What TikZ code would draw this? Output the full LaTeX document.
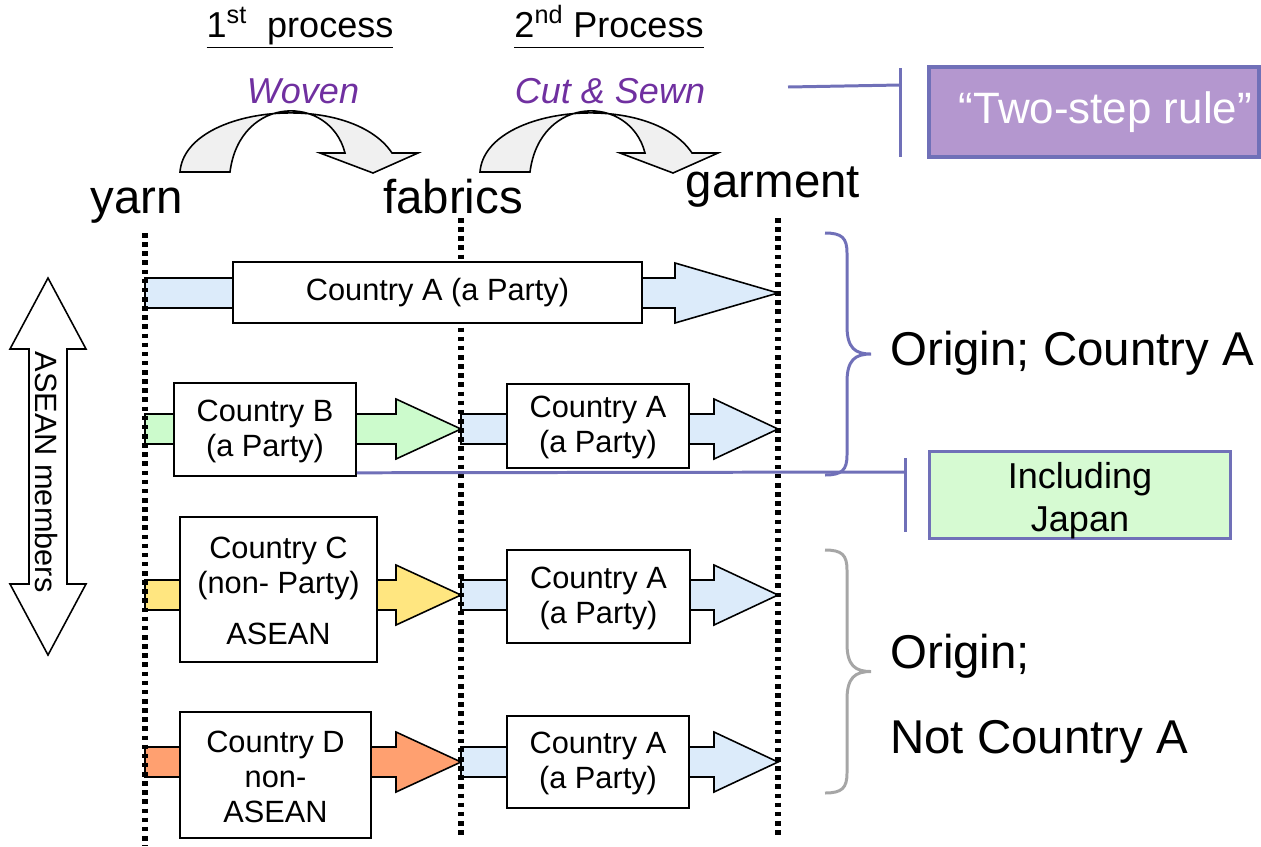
\documentclass[tikz,border=0pt]{standalone}
\usepackage{fontspec}
\setmainfont{Liberation Sans}

\definecolor{partyblue}{HTML}{DCEBFA}
\definecolor{partygreen}{HTML}{CCFBCC}
\definecolor{aseanyellow}{HTML}{FFE680}
\definecolor{otherorange}{HTML}{FFA070}
\definecolor{procpurple}{HTML}{7030A0}
\definecolor{rulepurple}{HTML}{B497CF}
\definecolor{rulemark}{HTML}{7070B8}
\definecolor{japangreen}{HTML}{D6FAD2}

\tikzstyle{country} = [draw, rectangle, fill=white, line width=0.9pt, inner sep=0pt, align=center, font=\fontsize{17.5}{20}\selectfont]
\tikzstyle{stage}   = [anchor=base, font=\fontsize{27}{30}\selectfont]
\tikzstyle{head}    = [anchor=base, font=\fontsize{20.5}{24}\selectfont]
\tikzstyle{proc}    = [anchor=base, text=procpurple, font=\fontsize{20.5}{24}\selectfont\itshape]
\tikzstyle{origin}  = [anchor=base west, inner sep=0pt, font=\fontsize{27}{30}\selectfont]
\tikzstyle{flow}    = [draw, line width=0.9pt]
\tikzstyle{cut}     = [draw, line width=3pt, dash pattern=on 2.6pt off 2.6pt]
\tikzstyle{remark}  = [draw=rulemark, line width=1.7pt]

% block arrow: colour, tail x, head x, tip x, y
\newcommand{\band}[5]{\path[flow, fill=#1] (#2,#5-15) -- (#3,#5-15) -- (#3,#5-30) -- (#4,#5)
  -- (#3,#5+30) -- (#3,#5+15) -- (#2,#5+15) -- cycle;}
% curly bracket: colour, x, top, bottom
\newcommand{\curly}[4]{\draw[#1, line width=1.7pt] (#2,#3) .. controls (#2+17,#3) and (#2+22,#3+5) .. (#2+22,#3+20)
  -- (#2+22,{(#3+#4)/2-28}) .. controls (#2+22,{(#3+#4)/2-6}) and (#2+30,{(#3+#4)/2}) .. (#2+46,{(#3+#4)/2})
  .. controls (#2+30,{(#3+#4)/2}) and (#2+22,{(#3+#4)/2+6}) .. (#2+22,{(#3+#4)/2+28})
  -- (#2+22,#4-20) .. controls (#2+22,#4-5) and (#2+17,#4) .. (#2,#4);}

\begin{document}
\begin{tikzpicture}[x=0.02cm, y=-0.02cm]
  \useasboundingbox (0,0) rectangle (1261,846);

  \node at (300,37) (first)  [head] {\underline{1\textsuperscript{st}\ \ process}};
  \node at (609,37) (second) [head] {\underline{2\textsuperscript{nd} Process\vphantom{p}}};
  \node at (303,103) (woven) [proc] {Woven};
  \node at (610,103) (sewn)  [proc] {Cut \& Sewn};

  \foreach \s in {0,300}
    \path[flow, fill=black!6] ({180+\s},172) .. controls ({185+\s},105) and ({350+\s},90) .. ({392+\s},153)
      -- ({418+\s},153) -- ({373+\s},173) -- ({320+\s},153) -- ({345+\s},153)
      .. controls ({330+\s},94) and ({240+\s},94) .. ({230+\s},172) -- cycle;

  \node at (137,213) (yarn)    [stage] {yarn};
  \node at (453,213) (fabrics) [stage] {fabrics};
  \node at (773,197) (garment) [stage] {garment};

  \band{partyblue}{145}{675}{778}{293}
  \band{partygreen}{145}{396}{461}{429}
  \band{partyblue}{461}{714}{778}{429}
  \band{aseanyellow}{145}{396}{461}{595}
  \band{partyblue}{461}{714}{778}{595}
  \band{otherorange}{145}{396}{461}{762}
  \band{partyblue}{461}{714}{778}{762}

  \draw[cut] (145,233) -- (145,846);
  \draw[cut] (461,218) -- (461,837);
  \draw[cut] (778,218) -- (778,837);

  \node at (437.5,292.5) (ca1) [country, minimum width=8.18cm, minimum height=1.22cm] {Country A (a Party)};
  \node at (265,429.5) (cb)  [country, minimum width=3.64cm, minimum height=1.86cm] {\strut Country B\\(a Party)};
  \node at (598,426)   (ca2) [country, minimum width=3.64cm, minimum height=1.68cm] {\strut Country A\\(a Party)};
  \node at (278.5,589.5) (cc) [country, minimum width=3.94cm, minimum height=2.9cm] {\strut Country C\\(non- Party)\\[9pt]ASEAN};
  \node at (598.5,596.5) (ca3) [country, minimum width=3.66cm, minimum height=1.86cm] {\strut Country A\\(a Party)};
  \node at (275.5,775) (cd)  [country, minimum width=3.82cm, minimum height=2.52cm] {\strut Country D\\non-\\ASEAN};
  \node at (598,762)   (ca4) [country, minimum width=3.64cm, minimum height=1.84cm] {\strut Country A\\(a Party)};

  % ASEAN members
  \path[flow, fill=white] (48,278) -- (86,349) -- (67,349) -- (67,584) -- (86,584) -- (48,655)
    -- (10,584) -- (29,584) -- (29,349) -- (10,349) -- cycle;
  \node at (46,472) (asean) [rotate=-90, font=\fontsize{17.5}{20}\selectfont] {ASEAN members};

  \curly{rulemark}{825}{233}{475}
  \curly{black!35}{825}{550}{793}
  \node at (890,365) (originA) [origin] {Origin; Country A};
  \node at (890,668) (originB) [origin] {Origin;};
  \node at (890,753) (notA)    [origin] {Not Country A};

  \node at (1094,112) (rule) [draw=rulemark, line width=2pt, fill=rulepurple, text=white,
    minimum width=6.6cm, minimum height=1.8cm, font=\fontsize{25}{28}\selectfont] {\hspace{13pt}\raisebox{-2.6pt}{“Two-step rule”}};
  \coordinate (rulefrom) at (788,87);
  \coordinate (rulebar) at (900,85);
  \draw[remark] (rulefrom) -- (rulebar);
  \draw[remark] (900,68) -- (900,157);

  \node at (1080,495) (japan) [draw=rulemark, line width=1.7pt, fill=japangreen, align=center, inner sep=0pt,
    minimum width=6.04cm, minimum height=1.52cm, font=\fontsize{20.5}{24.4}\selectfont] {\rule{0pt}{21pt}Including\\Japan};
  \coordinate (japanbar) at (905,472);
  \draw[remark] ([yshift=0.08cm]cb.south east) -- (japanbar);
  \draw[remark] (905,458) -- (905,532);
\end{tikzpicture}
\end{document}
